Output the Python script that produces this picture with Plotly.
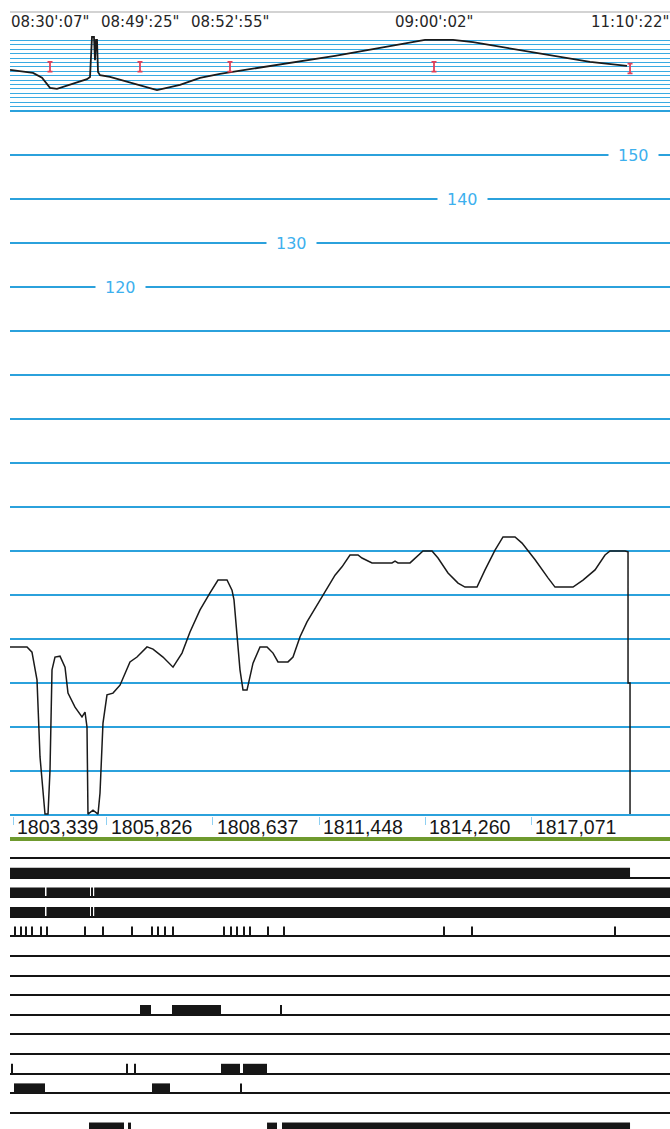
import plotly.graph_objects as go

# ---------------- data ----------------
depth_ticks = [1803.339, 1805.826, 1808.637, 1811.448, 1814.260, 1817.071]
depth_labels = ["1803,339", "1805,826", "1808,637", "1811,448", "1814,260", "1817,071"]

curve_depth = [1803.254, 1803.705, 1803.837, 1803.970, 1804.050, 1804.129, 1804.182, 1804.262,
               1804.315, 1804.368, 1804.447, 1804.580, 1804.713, 1804.792, 1804.978, 1805.163,
               1805.243, 1805.296, 1805.322, 1805.455, 1805.588, 1805.641, 1805.720, 1805.826,
               1805.985, 1806.171, 1806.436, 1806.622, 1806.887, 1807.046, 1807.311, 1807.577,
               1807.815, 1808.027, 1808.293, 1808.558, 1808.770, 1809.009, 1809.141, 1809.194,
               1809.274, 1809.353, 1809.433, 1809.539, 1809.698, 1809.884, 1810.070, 1810.229,
               1810.361, 1810.626, 1810.759, 1810.945, 1811.130, 1811.475, 1811.740, 1811.873,
               1812.058, 1812.270, 1812.482, 1812.588, 1812.854, 1813.384, 1813.464, 1813.543,
               1813.862, 1814.074, 1814.206, 1814.445, 1814.604, 1814.869, 1815.135, 1815.320,
               1815.638, 1815.851, 1816.116, 1816.328, 1816.646, 1816.832, 1817.179, 1817.521,
               1817.707, 1818.184, 1818.449, 1818.768, 1819.033, 1819.166, 1819.563, 1819.643,
               1819.643, 1819.696, 1819.696]
curve_value = [38.2, 38.2, 37.0, 30.7, 13.2, 5.7, 0.2, 0.2,
               10.2, 33.0, 35.9, 36.1, 33.6, 27.7, 24.5, 22.3,
               23.4, 20.0, 0.2, 1.1, 0.2, 5.0, 20.9, 27.3,
               27.7, 29.5, 34.8, 35.9, 38.2, 37.7, 35.9, 33.6,
               36.8, 41.6, 46.6, 50.5, 53.4, 53.4, 51.1, 48.9,
               40.5, 33.0, 28.4, 28.4, 34.5, 38.2, 38.2, 36.8,
               34.8, 34.8, 35.9, 40.5, 43.9, 48.9, 52.7, 54.5,
               56.4, 59.1, 59.1, 58.4, 57.3, 57.3, 57.7, 57.3,
               57.3, 59.1, 60.0, 60.0, 58.4, 55.0, 52.7, 51.8,
               51.8, 55.7, 60.2, 63.2, 63.2, 61.8, 58.0, 53.9,
               51.8, 51.8, 53.4, 55.7, 59.1, 60.0, 60.0, 59.8,
               30.0, 30.0, 0.2]

time_depth = [1803.254, 1803.864, 1804.103, 1804.315, 1804.500, 1805.296, 1805.376, 1805.428,
              1805.481, 1805.508, 1805.535, 1805.561, 1805.588, 1805.641, 1805.906, 1806.516,
              1807.152, 1807.762, 1808.293, 1808.823, 1811.873, 1814.259, 1815.002, 1815.534,
              1817.311, 1818.635, 1819.616]
time_value = [8.3, 7.6, 6.5, 4.2, 4.0, 6.2, 6.7, 15.8,
              15.8, 10.5, 15.1, 15.1, 7.8, 7.1, 6.7, 5.3,
              3.7, 4.9, 6.5, 7.4, 11.5, 15.1, 15.1, 14.6,
              12.1, 10.1, 9.2]

mark_depth = [1804.315, 1806.701, 1809.088, 1814.498, 1819.696]
mark_value = [9.0, 9.0, 9.0, 9.0, 8.6]
mark_time = ["08:30':07\"", "08:49':25\"", "08:52':55\"", "09:00':02\"", "11:10':22\""]

scale_values = [150, 140, 130, 120]

track_ids = [1, 2, 3, 4, 5, 6, 7, 8, 9, 10, 11, 12, 13, 14]
t02_on = [(1803.20, 1819.696)]
t03_on = [(1803.20, 1804.182), (1804.222, 1805.376), (1805.407, 1805.455), (1805.487, 1820.80)]
t04_on = [(1803.20, 1804.182), (1804.222, 1805.376), (1805.407, 1805.455), (1805.487, 1820.80)]
t05_ev = [1803.387, 1803.546, 1803.678, 1803.837, 1804.076, 1804.235, 1805.243, 1805.720,
          1806.489, 1807.020, 1807.179, 1807.364, 1807.577, 1808.929, 1809.115, 1809.274,
          1809.459, 1809.619, 1810.096, 1810.520, 1814.763, 1815.506, 1819.298]
t09_on = [(1806.701, 1806.993), (1807.550, 1808.849)]
t09_ev = [1810.441]
t12_on = [(1808.849, 1809.353), (1809.433, 1810.070)]
t12_ev = [1803.307, 1806.357, 1806.569]
t13_on = [(1803.360, 1804.182), (1807.020, 1807.497)]
t13_ev = [1809.380]
t15_on = [(1805.349, 1806.277), (1806.383, 1806.463), (1810.070, 1810.335), (1810.467, 1819.696)]

# ---------------- style / layout ----------------
W, H = 670, 1129
X0, X1 = 1803.254, 1820.756
BLUE = "#2ba1dc"
BLUE2 = "#3aaae2"
LABEL_BLUE = "#3db0ee"
RED = "#e0405a"
GREEN = "#6f9a2e"
INK = "#1a1a1a"
EV_LEN = 0.045
scale_label_depth = [1819.775, 1815.241, 1810.706, 1806.171]


def py(p):
    return 1 - p / H


fig = go.Figure()

fig.add_trace(go.Scatter(x=curve_depth, y=curve_value, mode="lines",
                         line=dict(color=INK, width=1.5), xaxis="x", yaxis="y",
                         hoverinfo="skip"))
fig.add_trace(go.Scatter(x=time_depth, y=time_value, mode="lines",
                         line=dict(color=INK, width=1.8), xaxis="x2", yaxis="y2",
                         hoverinfo="skip"))
fig.add_trace(go.Scatter(x=mark_depth, y=mark_value, mode="markers",
                         marker=dict(size=1, color=RED),
                         error_y=dict(type="constant", value=1.1, width=2.5,
                                      thickness=1.8, color=RED),
                         xaxis="x2", yaxis="y2", hoverinfo="skip"))

tracks = [(2, t02_on, []), (3, t03_on, []), (4, t04_on, []), (5, [], t05_ev),
          (9, t09_on, t09_ev), (12, t12_on, t12_ev), (13, t13_on, t13_ev),
          (15, t15_on, [])]
for k, on, ev in tracks:
    starts = [a for a, b in on] + [e - EV_LEN / 2 for e in ev]
    lens = [b - a for a, b in on] + [EV_LEN] * len(ev)
    fig.add_trace(go.Bar(orientation="h", y=[k] * len(starts), x=lens, base=starts,
                         width=0.5, offset=-0.5,
                         marker=dict(color="#161616", line=dict(width=0)),
                         xaxis="x3", yaxis="y3", hoverinfo="skip"))

annotations = []
for d, t in zip(mark_depth, mark_time):
    annotations.append(dict(x=d, xref="x2", y=py(22), yref="paper", text=t,
                            showarrow=False, xanchor="center", yanchor="middle",
                            font=dict(family="DejaVu Sans", size=15, color="#262626")))
for d, t in zip(depth_ticks, depth_labels):
    annotations.append(dict(x=d, xref="x", y=py(827), yref="paper", text=t,
                            showarrow=False, xanchor="left", yanchor="middle", xshift=2,
                            font=dict(family="Liberation Sans, Arial", size=19.5, color="#161616")))
for d, v in zip(scale_label_depth, scale_values):
    annotations.append(dict(x=d, xref="x", y=v, yref="y", text=str(v),
                            showarrow=False, xanchor="center", yanchor="middle",
                            bgcolor="white", borderpad=9,
                            font=dict(family="DejaVu Sans", size=16, color=LABEL_BLUE)))

fig.update_layout(
    width=W, height=H, margin=dict(l=0, r=0, t=0, b=0),
    paper_bgcolor="white", plot_bgcolor="white", showlegend=False, barmode="overlay",
    xaxis=dict(domain=[10 / W, 1], range=[X0, X1], anchor="y", showgrid=False,
               zeroline=False, showline=False, tickmode="array", tickvals=depth_ticks,
               ticks="outside", ticklen=8, tickwidth=1.2, tickcolor="#8fd0f2",
               showticklabels=False),
    yaxis=dict(domain=[py(816.32), py(109.68)], range=[-0.3, 160.3], anchor="x",
               tick0=0, dtick=10, showgrid=True, gridcolor=BLUE, gridwidth=1.6,
               zeroline=True, zerolinecolor=BLUE, zerolinewidth=1.6,
               showticklabels=False, ticks=""),
    xaxis2=dict(domain=[10 / W, 1], matches="x", anchor="y2", showgrid=False,
                zeroline=False, showticklabels=False, ticks=""),
    yaxis2=dict(domain=[py(107.28), py(35.12)], range=[-0.2, 16.2], anchor="x2",
                tick0=0, dtick=1, showgrid=True, gridcolor=BLUE2, gridwidth=1.3,
                zeroline=True, zerolinecolor=BLUE2, zerolinewidth=1.3,
                showticklabels=False, ticks=""),
    xaxis3=dict(domain=[10 / W, 1], matches="x", anchor="y3", side="top",
                showline=True, linecolor=GREEN, linewidth=4, showgrid=False,
                zeroline=False, showticklabels=False, ticks=""),
    yaxis3=dict(domain=[0, py(841)], range=[14.827, 0.133], anchor="x3",
                tickmode="array", tickvals=track_ids, showgrid=True,
                gridcolor="#141414", gridwidth=1.6, zeroline=False,
                showticklabels=False, ticks=""),
    annotations=annotations,
    shapes=[dict(type="line", xref="paper", yref="paper", x0=10 / W, x1=1,
                 y0=py(12), y1=py(12), line=dict(color="#c4c4c4", width=1.5))],
)

fig.write_html("out.html", config={"displayModeBar": False},
               post_script="document.body.style.margin='0';document.body.style.overflow='hidden';")
